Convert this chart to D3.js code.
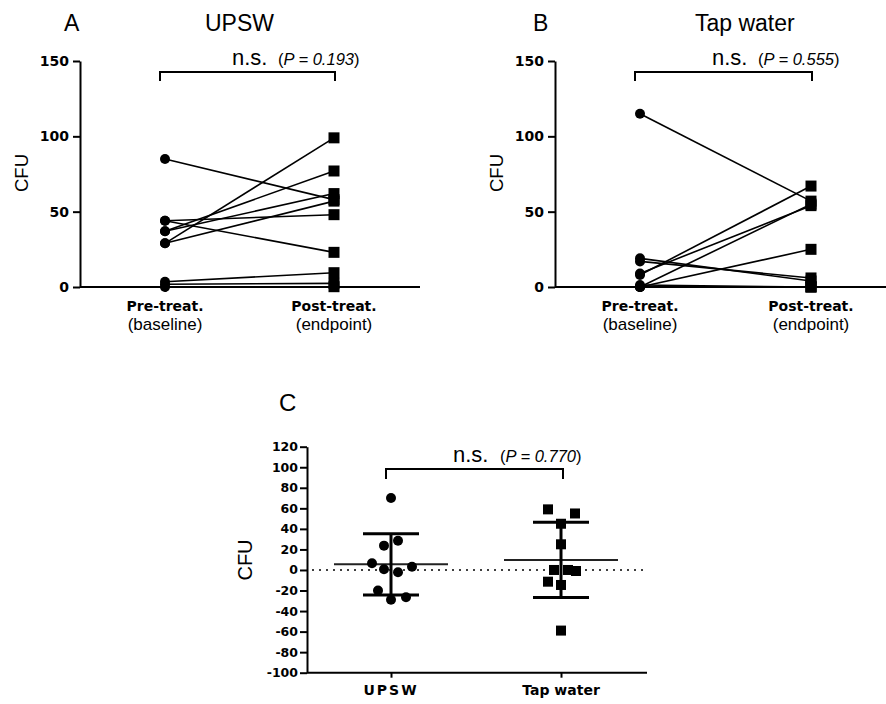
<!DOCTYPE html>
<html>
<head>
<meta charset="utf-8">
<script src="https://cdn.jsdelivr.net/npm/d3@7"></script>
<style>
  html, body { margin: 0; padding: 0; background: #fff; }
  svg { display: block; }
</style>
</head>
<body>
<svg id="chart" width="886" height="704"></svg>
<script>
// ---------------- DATA ----------------
const timepoints = ["Pre-treat.", "Post-treat."];
const timepointSub = ["(baseline)", "(endpoint)"];
const abTicks = [0, 50, 100, 150];

// Panel A: UPSW paired CFU (pre -> post)
const upswPre  = [85, 44, 44, 37, 37, 29, 29, 3.5, 1.8, 0];
const upswPost = [58, 48, 23, 77, 62, 99, 57, 9.5, 2.4, 0.2];

// Panel B: Tap water paired CFU (pre -> post)
const tapPre  = [115, 19, 17, 8, 9, 0, 0, 0, 0, 1.3];
const tapPost = [57, 4, 6, 67, 54, 55, 25, 0.2, 0, 0];

// Panel C: change in CFU (post - pre)
const groupsC = ["UPSW", "Tap water"];
const changeUpsw = [70, 28.5, 23.7, 6.5, 3.2, 0.7, -2.3, -20, -26.6, -29];
const changeTap  = [59, 55, 45, 25, 0, 0, -1, -11.4, -14.6, -59];
const cTicks = [-100, -80, -60, -40, -20, 0, 20, 40, 60, 80, 100, 120];
// horizontal scatter offsets (px) for the dot plots
const jitterUpsw = [0, 7, -7, -19, 21, -7, 7, -13, 15, 0];
const jitterTap  = [-13, 14, 0, 0, -7, 7, 15, -13, 0, 0];

const pTexts = ["P = 0.193", "P = 0.555", "P = 0.770"];

// ---------------- DRAW ----------------
const svg = d3.select("#chart");
svg.append("rect").attr("width", 886).attr("height", 704).attr("fill", "#fff");

const tickFont = "'DejaVu Sans', sans-serif";
const textFont = "Arial, 'Liberation Sans', sans-serif";
const hyphenFmt = d => String(d);

function styleYAxis(g, size) {
  g.select(".domain").attr("stroke", "#000").attr("stroke-width", 2);
  g.selectAll(".tick line").attr("stroke", "#000").attr("stroke-width", 2);
  g.selectAll(".tick text")
    .attr("fill", "#000")
    .style("font-family", tickFont)
    .style("font-weight", "bold")
    .style("font-size", size + "px");
}

function bracket(x1, x2, yTop, yBot, nsX, pX, baseY, ptext) {
  svg.append("path")
    .attr("d", `M${x1},${yBot}V${yTop}H${x2}V${yBot}`)
    .attr("fill", "none").attr("stroke", "#000").attr("stroke-width", 2);
  svg.append("text").attr("x", nsX).attr("y", baseY)
    .style("font-family", textFont).style("font-size", "22px").text("n.s.");
  const t = svg.append("text").attr("x", pX).attr("y", baseY)
    .style("font-family", textFont).style("font-size", "16.5px");
  t.append("tspan").text("(");
  t.append("tspan").style("font-style", "italic").text(ptext);
  t.append("tspan").text(")");
}

function pairedPanel(opt) {
  const x = d3.scalePoint().domain(timepoints).range([opt.x0 + 85, opt.x0 + 85 + opt.gap]);
  const y = d3.scaleLinear().domain([0, 150]).range([287, 61]);

  svg.append("text").attr("x", opt.letterX).attr("y", 31)
    .style("font-family", textFont).style("font-size", "23px").text(opt.letter);
  svg.append("text").attr("x", opt.titleX).attr("y", 31)
    .style("font-family", textFont).style("font-size", "23px").text(opt.title);

  svg.append("text")
    .attr("transform", `translate(${opt.x0 - 52},173) rotate(-90)`)
    .attr("text-anchor", "middle")
    .style("font-family", textFont).style("font-size", "18.5px").text("CFU");

  const gy = svg.append("g").attr("transform", `translate(${opt.x0},0)`)
    .call(d3.axisLeft(y).tickValues(abTicks).tickFormat(hyphenFmt).tickSize(7).tickSizeOuter(0).tickPadding(4));
  styleYAxis(gy, 14);

  svg.append("line").attr("x1", opt.x0).attr("x2", opt.x0 + 340)
    .attr("y1", y(0)).attr("y2", y(0)).attr("stroke", "#000").attr("stroke-width", 2);
  const gx = svg.append("g").attr("transform", `translate(0,${y(0)})`)
    .call(d3.axisBottom(x).tickSize(5).tickSizeOuter(0).tickFormat(""));
  gx.select(".domain").remove();
  gx.selectAll(".tick line").attr("stroke", "#000").attr("stroke-width", 2);

  timepoints.forEach((c, i) => {
    svg.append("text").attr("x", x(c)).attr("y", 311).attr("text-anchor", "middle")
      .style("font-family", tickFont).style("font-weight", "bold").style("font-size", "14px").text(c);
    svg.append("text").attr("x", x(c)).attr("y", 330).attr("text-anchor", "middle")
      .style("font-family", textFont).style("font-size", "17px").text(timepointSub[i]);
  });

  const g = svg.append("g");
  opt.pre.forEach((v, i) => {
    g.append("line")
      .attr("x1", x(timepoints[0])).attr("y1", y(v))
      .attr("x2", x(timepoints[1])).attr("y2", y(opt.post[i]))
      .attr("stroke", "#000").attr("stroke-width", 1.6);
  });
  g.selectAll("circle.pre").data(opt.pre).join("circle")
    .attr("cx", x(timepoints[0])).attr("cy", d => y(d)).attr("r", 5).attr("fill", "#000");
  g.selectAll("rect.post").data(opt.post).join("rect")
    .attr("x", x(timepoints[1]) - 5.5).attr("y", d => y(d) - 5.5)
    .attr("width", 11).attr("height", 11).attr("fill", "#000");

  bracket(x(timepoints[0]) - 5, x(timepoints[1]) + 1, 72, 81, opt.nsX, opt.pX, 65, opt.p);
}

pairedPanel({ x0: 80, gap: 169, letter: "A", letterX: 64, title: "UPSW", titleX: 205,
  pre: upswPre, post: upswPost, nsX: 232, pX: 278, p: pTexts[0] });
pairedPanel({ x0: 555, gap: 171, letter: "B", letterX: 533, title: "Tap water", titleX: 695,
  pre: tapPre, post: tapPost, nsX: 712, pX: 758, p: pTexts[1] });

// ---------------- Panel C ----------------
(function () {
  const x0 = 307;
  const x = d3.scalePoint().domain(groupsC).range([391, 561]);
  const y = d3.scaleLinear().domain([-100, 120]).range([672.7, 446.7]);

  svg.append("text").attr("x", 279).attr("y", 411)
    .style("font-family", textFont).style("font-size", "24px").text("C");

  svg.append("text")
    .attr("transform", `translate(252,560) rotate(-90)`)
    .attr("text-anchor", "middle")
    .style("font-family", textFont).style("font-size", "20px").text("CFU");

  const gy = svg.append("g").attr("transform", `translate(${x0},0)`)
    .call(d3.axisLeft(y).tickValues(cTicks).tickFormat(hyphenFmt).tickSize(7).tickSizeOuter(0).tickPadding(2));
  styleYAxis(gy, 12.5);

  svg.append("line").attr("x1", x0).attr("x2", 647)
    .attr("y1", y(-100)).attr("y2", y(-100)).attr("stroke", "#000").attr("stroke-width", 2);
  const gx = svg.append("g").attr("transform", `translate(0,${y(-100)})`)
    .call(d3.axisBottom(x).tickSize(5).tickSizeOuter(0).tickFormat(""));
  gx.select(".domain").remove();
  gx.selectAll(".tick line").attr("stroke", "#000").attr("stroke-width", 2);

  groupsC.forEach((c, i) => {
    svg.append("text").attr("x", x(c)).attr("y", 695).attr("text-anchor", "middle")
      .style("font-family", tickFont).style("font-weight", "bold").style("font-size", "14px")
      .style("letter-spacing", i === 0 ? "2px" : "0px").text(c);
  });

  svg.append("line").attr("x1", 312).attr("x2", 647).attr("y1", y(0)).attr("y2", y(0))
    .attr("stroke", "#000").attr("stroke-width", 1.5).attr("stroke-dasharray", "2,5");

  const sets = [
    { name: groupsC[0], vals: changeUpsw, jit: jitterUpsw, shape: "circle" },
    { name: groupsC[1], vals: changeTap, jit: jitterTap, shape: "square" }
  ];

  sets.forEach(s => {
    const cx = x(s.name);
    const m = d3.mean(s.vals), sd = d3.deviation(s.vals);
    const g = svg.append("g");
    g.append("line").attr("x1", cx - 57).attr("x2", cx + 57).attr("y1", y(m)).attr("y2", y(m))
      .attr("stroke", "#222").attr("stroke-width", 2);
    g.append("line").attr("x1", cx).attr("x2", cx).attr("y1", y(m + sd)).attr("y2", y(m - sd))
      .attr("stroke", "#000").attr("stroke-width", 3);
    [m + sd, m - sd].forEach(v => {
      g.append("line").attr("x1", cx - 28).attr("x2", cx + 28).attr("y1", y(v)).attr("y2", y(v))
        .attr("stroke", "#000").attr("stroke-width", 3);
    });
    if (s.shape === "circle") {
      g.selectAll("circle.pt").data(s.vals).join("circle")
        .attr("cx", (d, i) => cx + s.jit[i]).attr("cy", d => y(d)).attr("r", 5).attr("fill", "#000");
    } else {
      g.selectAll("rect.pt").data(s.vals).join("rect")
        .attr("x", (d, i) => cx + s.jit[i] - 5).attr("y", d => y(d) - 5)
        .attr("width", 10).attr("height", 10).attr("fill", "#000");
    }
  });

  bracket(386, 563, 469, 479, 453, 500, 462, pTexts[2]);
})();
</script>
</body>
</html>
